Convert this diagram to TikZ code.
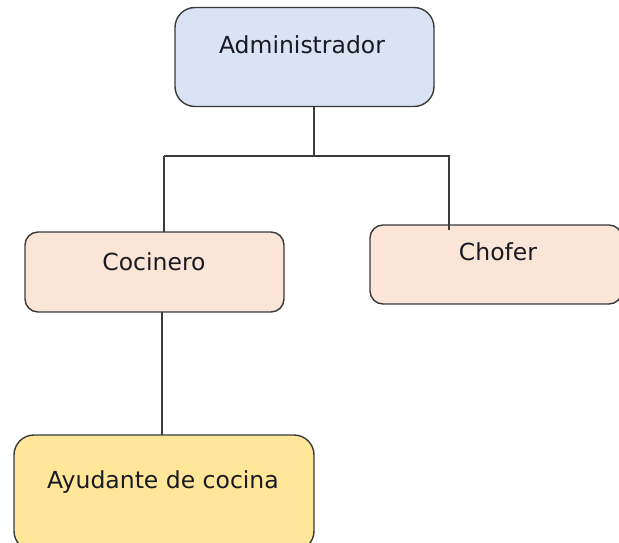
\documentclass[tikz,border=0pt]{standalone}
\usepackage{fontspec}
\setmainfont{DejaVu Sans}
\definecolor{adminblue}{HTML}{DAE3F3}
\definecolor{peach}{HTML}{FBE5D6}
\definecolor{gold}{HTML}{FFE699}
\definecolor{edge}{HTML}{3A3A3A}
\definecolor{txt}{HTML}{1A1A24}
\begin{document}
\begin{tikzpicture}[x=1pt,y=-1pt,
  box/.style={draw=edge, line width=1.4pt, inner sep=0pt, outer sep=0pt},
  lbl/.style={anchor=base, text=txt, inner sep=0pt, font=\fontsize{23.5}{27}\selectfont},
  conn/.style={draw=edge, line width=1.5pt}]
\useasboundingbox (0,0) rectangle (619,543);
\clip (0,0) rectangle (619,543);
\node[box, fill=adminblue, minimum width=259pt, minimum height=99pt, rounded corners=20pt] (admin) at (304.5,57) {};
\node[box, fill=peach, minimum width=259pt, minimum height=80pt, rounded corners=13pt] (coc) at (154.5,272) {};
\node[box, fill=peach, minimum width=252pt, minimum height=79pt, rounded corners=13pt] (chof) at (496,264.5) {};
\node[box, fill=gold, minimum width=300pt, minimum height=116pt, rounded corners=20pt] (ayu) at (164,493) {};
\node[lbl] (tadmin) at (302,54) {Administrador};
\node[lbl] (tcoc) at (154,270.5) {Cocinero};
\node[lbl] (tchof) at (498,260.5) {Chofer};
\node[lbl] (tayu) at (163,488.5) {Ayudante de cocina};
\coordinate (busM) at (314,156);
\coordinate (busL) at (164,156);
\coordinate (busR) at (450,156);
\coordinate (chofEnd) at (449,230);
\draw[conn] (admin.south -| busM) -- (busM);
\draw[conn] (busL) -- (busR);
\draw[conn] (busL) -- (busL |- coc.north);
\draw[conn] (busR -| chofEnd) -- (chofEnd);
\draw[conn] (coc.south -| 162,0) -- (ayu.north -| 162,0);
\end{tikzpicture}
\end{document}
